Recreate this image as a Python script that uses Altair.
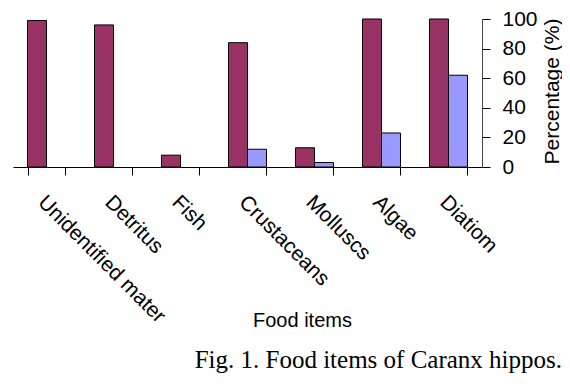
import altair as alt
import pandas as pd

categories = ["Unidentified mater", "Detritus", "Fish", "Crustaceans", "Molluscs", "Algae", "Diatiom"]
series_names = ["Occurrence", "Composition"]
series_a = [99, 96, 8, 84, 13, 100, 100]
series_b = [None, None, None, 12, 3, 23, 62]
y_ticks = [0, 20, 40, 60, 80, 100]
colors = ["#993366", "#9999FF"]

rows = []
for c, a, b in zip(categories, series_a, series_b):
    if a is not None:
        rows.append({"item": c, "series": series_names[0], "value": a})
    if b is not None:
        rows.append({"item": c, "series": series_names[1], "value": b})
df = pd.DataFrame(rows)

sans = "Liberation Sans"

chart = alt.Chart(df).mark_bar(stroke="black", strokeWidth=1).encode(
    x=alt.X(
        "item:N",
        sort=categories,
        scale=alt.Scale(paddingInner=0.433, paddingOuter=0.2165),
        axis=alt.Axis(
            title="Food items",
            labelAngle=45,
            labelAlign="left",
            labelBaseline="alphabetic",
            labelOffset=-10,
            labelPadding=28,
            labelLimit=400,
            tickBand="extent",
            tickSize=8,
            tickColor="black",
            domainColor="black",
            labelColor="black",
            titleColor="black",
            labelFont=sans,
            labelFontSize=21,
            titleFont=sans,
            titleFontSize=20,
            titleFontWeight="normal",
            titleX=289,
            titleY=153,
            titleBaseline="middle",
            titleAlign="center",
            grid=False,
        ),
    ),
    xOffset=alt.XOffset("series:N", sort=series_names),
    y=alt.Y(
        "value:Q",
        scale=alt.Scale(domain=[0, 100]),
        axis=alt.Axis(
            orient="right",
            values=y_ticks,
            title="Percentage (%)",
            titleAngle=270,
            titleX=70,
            titleY=72,
            titleBaseline="middle",
            titleAlign="center",
            tickSize=8,
            labelPadding=12,
            tickColor="black",
            domainColor="#444444",
            labelColor="black",
            titleColor="black",
            labelFont=sans,
            labelFontSize=21,
            titleFont=sans,
            titleFontSize=21,
            titleFontWeight="normal",
            grid=False,
        ),
    ),
    color=alt.Color("series:N", scale=alt.Scale(domain=series_names, range=colors), legend=None),
).properties(
    width=469,
    height=148,
    autosize="none",
    padding={"left": 5, "top": 11, "right": 80, "bottom": 212},
    title=alt.TitleParams(
        "Fig. 1. Food items of Caranx hippos.",
        orient="bottom",
        anchor="end",
        font="Liberation Serif",
        fontSize=25,
        fontWeight="normal",
        color="black",
        offset=18,
    ),
).configure_view(stroke=None)

chart.save("out.html", embed_options={"renderer": "svg", "actions": False})
